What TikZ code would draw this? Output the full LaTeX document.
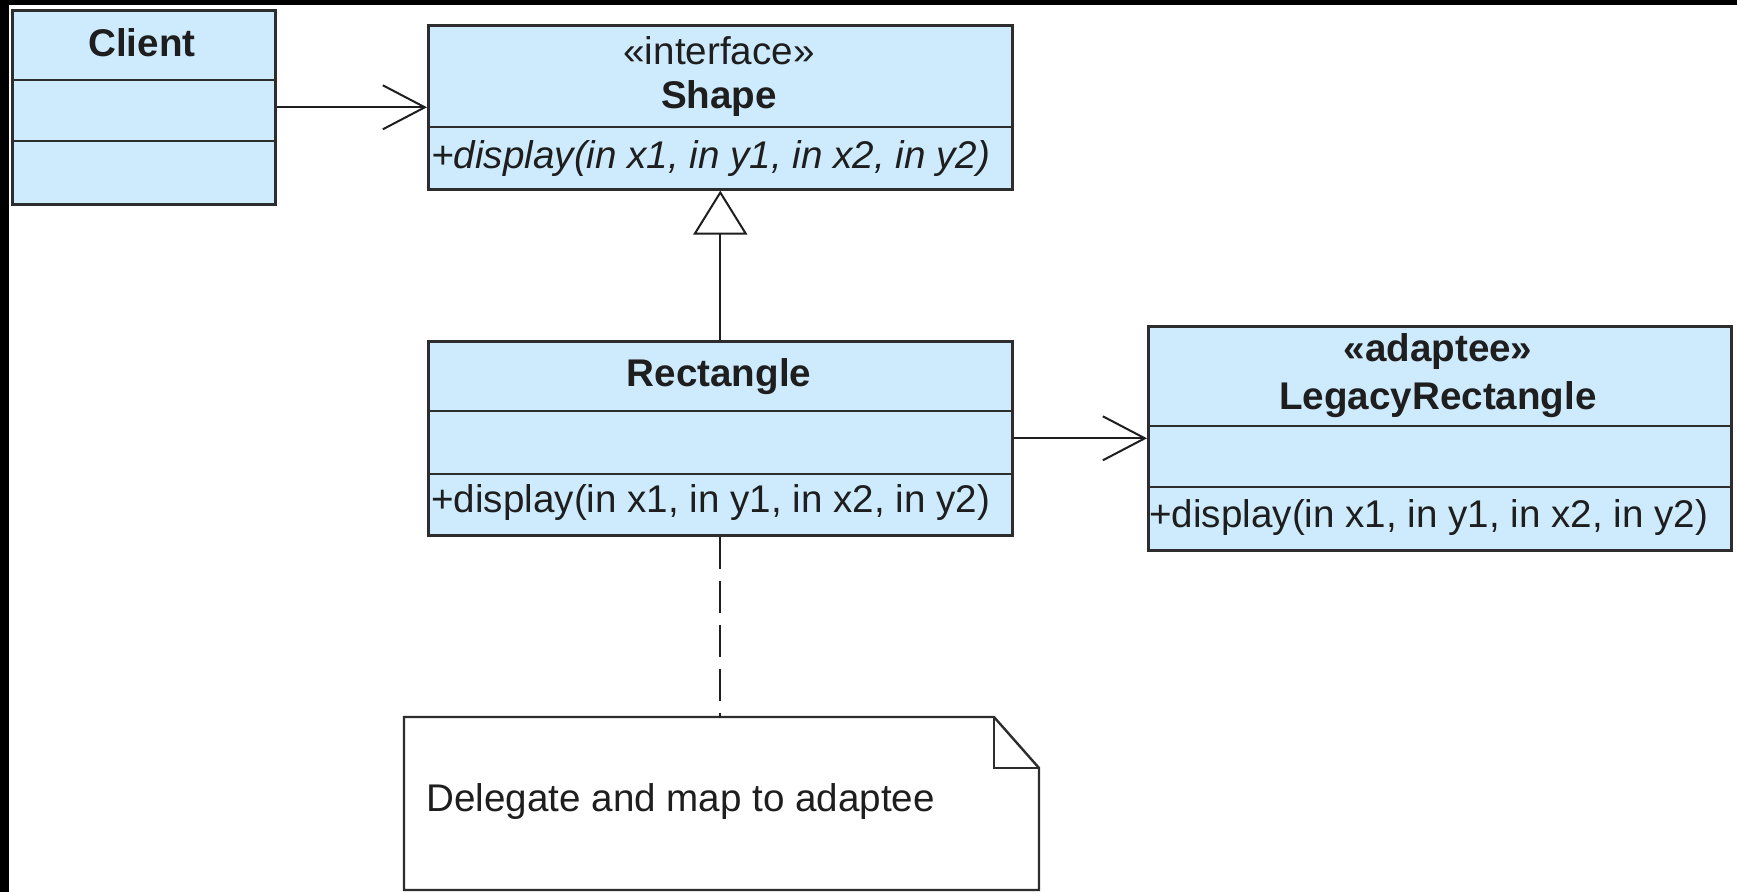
\documentclass[tikz,border=0pt]{standalone}
\usepackage{fontspec}
\setmainfont{Liberation Sans}
\usetikzlibrary{arrows.meta}
\definecolor{clsfill}{RGB}{206,235,253}
\definecolor{edgecol}{RGB}{45,45,45}
\definecolor{ink}{RGB}{30,30,30}
\begin{document}
\begin{tikzpicture}[x=0.5pt,y=-0.5pt,
  cls/.style={draw=edgecol, fill=clsfill, line width=1.3pt, rectangle, inner sep=0pt, anchor=north west},
  sep/.style={draw=edgecol, line width=1.3pt},
  lbl/.style={text=ink, inner sep=0pt, font=\fontsize{19.3}{23}\selectfont},
  ttl/.style={text=ink, inner sep=0pt, font=\fontsize{19.3}{23}\selectfont\bfseries},
  op/.style={lbl, anchor=west},
  assoc/.style={draw=ink, line width=1pt, -{Straight Barb[length=21pt,width=22pt,line width=1pt]}},
  gen/.style={draw=ink, line width=1pt, -{Triangle[open,length=22pt,width=27pt,line width=1pt,fill=white]}},
  anchorline/.style={draw=ink, line width=1pt, dash pattern=on 16pt off 6pt},
  notebox/.style={draw=edgecol, line width=1.2pt}
]
\useasboundingbox (0,0) rectangle (1737,892);
\fill[black] (0,0) rectangle (1737,892);
\fill[white] (9,5) rectangle (1737,892);

% Client
\node[cls, minimum width=131.5pt, minimum height=97pt] (client) at (11,9) {};
\draw[sep] (11,80) -- (274,80);
\draw[sep] (11,141) -- (274,141);
\node[ttl] (clientname) at (142,43) {Client};

% Shape
\node[cls, minimum width=292pt, minimum height=82pt] (shape) at (427,24) {};
\draw[sep] (427,127) -- (1011,127);
\node[lbl] (shapest) at (719,51) {«interface»};
\node[ttl] (shapename) at (719,99) {Shape};
\node[op, font=\fontsize{19.3}{23}\selectfont\itshape] (shapeop) at (431,159) {+display(in x1, in y1, in x2, in y2)};

% Rectangle
\node[cls, minimum width=292pt, minimum height=97pt] (rect) at (427,340) {};
\draw[sep] (427,411) -- (1011,411);
\draw[sep] (427,474) -- (1011,474);
\node[ttl] (rectname) at (719,377) {Rectangle};
\node[op] (rectop) at (431,503) {+display(in x1, in y1, in x2, in y2)};

% LegacyRectangle
\node[cls, minimum width=291.5pt, minimum height=112pt] (legacy) at (1147,325) {};
\draw[sep] (1147,426) -- (1730,426);
\draw[sep] (1147,487) -- (1730,487);
\node[ttl] (legst) at (1438,352) {«adaptee»};
\node[ttl] (legname) at (1438,400) {LegacyRectangle};
\node[op] (legop) at (1149,518) {+display(in x1, in y1, in x2, in y2)};

% Note
\node[draw=none, inner sep=0pt, anchor=north west, minimum width=317.5pt, minimum height=86.5pt] (note) at (404,717) {};
\draw[notebox, fill=white] (404,717) -- (994,717) -- (1039,768) -- (1039,890) -- (404,890) -- cycle;
\draw[notebox] (994,717) -- (994,768) -- (1039,768);
\node[lbl, anchor=west] (notetext) at (426,802) {Delegate and map to adaptee};

% Connectors
\draw[assoc] (client.east) -- (shape.west);
\draw[gen] (rect.north) -- (shape.south);
\draw[assoc] (rect.east) -- (legacy.west);
\draw[anchorline] (rect.south) -- (rect.south |- note.north);
\end{tikzpicture}
\end{document}
